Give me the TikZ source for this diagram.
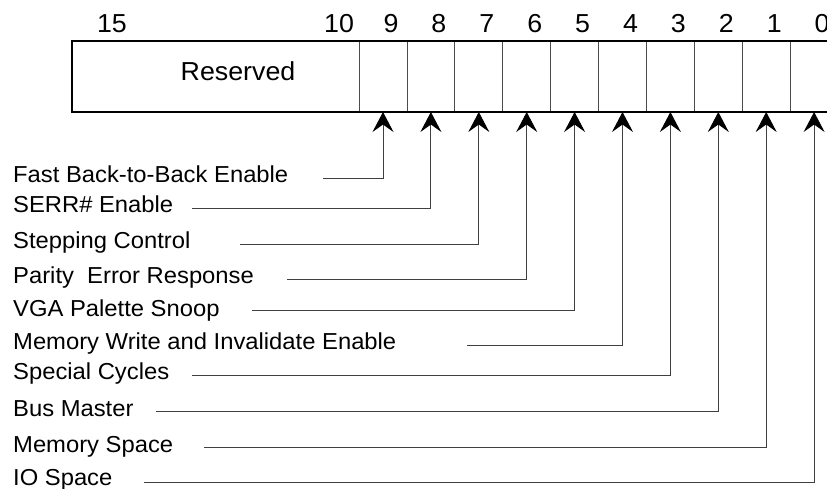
\documentclass[tikz,border=0pt]{standalone}
\usepackage{fontspec}
\setmainfont{Liberation Sans}
\newfontfamily\lblfont[FakeStretch=1.03]{Liberation Sans}
\usetikzlibrary{arrows.meta}
\begin{document}
\begin{tikzpicture}[x=1pt,y=-1pt,
  cell/.style={draw=black!70,line width=0.9pt,rectangle,inner sep=0pt,outer sep=0pt,minimum height=71pt,minimum width=47.9pt},
  num/.style={anchor=base,inner sep=0pt,font=\lblfont\fontsize{26}{28}\selectfont},
  lbl/.style={anchor=base west,inner sep=0pt,font=\lblfont\fontsize{23.1}{25}\selectfont},
  conn/.style={draw=black!75,line width=0.9pt,-{Stealth[length=20pt,width=21pt,inset=7.5pt,color=black,fill=black]}}]
\useasboundingbox (0,0) rectangle (827,489);
\clip (0,0) rectangle (827,489);
% register cells
\node[cell,minimum width=287pt] (res) at (215.5,76.5) {};
\node[inner sep=0pt,anchor=base,font=\lblfont\fontsize{26}{28}\selectfont] (restxt) at (238,81) {Reserved};
\foreach \k in {9,...,0}{
  \node[cell] (b\k) at ({383+47.9*(9-\k)},76.5) {};
  \node[num] (n\k) at ({391+47.9*(9-\k)},33) {\k};
}
\node[num] (n15) at (112,33) {15};
\node[num] (n10) at (339,33) {10};
\draw[black,line width=1.3pt] (72,41) rectangle (840,112);
% labels
\node[lbl] (l9) at (13,182.7) {Fast Back-to-Back Enable};
\node[lbl] (l8) at (13,213) {SERR\# Enable};
\node[lbl] (l7) at (13,248) {Stepping Control};
\node[lbl] (l6) at (13,283) {Parity\ \ Error Response};
\node[lbl] (l5) at (13,316) {VGA Palette Snoop};
\node[lbl] (l4) at (13,349) {Memory Write and Invalidate Enable};
\node[lbl] (l3) at (13,379) {Special Cycles};
\node[lbl] (l2) at (13,416) {Bus Master};
\node[lbl] (l1) at (13,452) {Memory Space};
\node[lbl] (l0) at (13,485) {IO Space};
% connector start points
\coordinate (s9) at (323,178.7);
\coordinate (s8) at (192,208);
\coordinate (s7) at (240,244);
\coordinate (s6) at (287,279.5);
\coordinate (s5) at (252,310);
\coordinate (s4) at (467,345);
\coordinate (s3) at (192,375);
\coordinate (s2) at (156,411);
\coordinate (s1) at (204,447);
\coordinate (s0) at (144,482.5);
\foreach \k in {0,...,9}{
  \draw[conn] (s\k) -| (b\k.south);
}
\end{tikzpicture}
\end{document}
